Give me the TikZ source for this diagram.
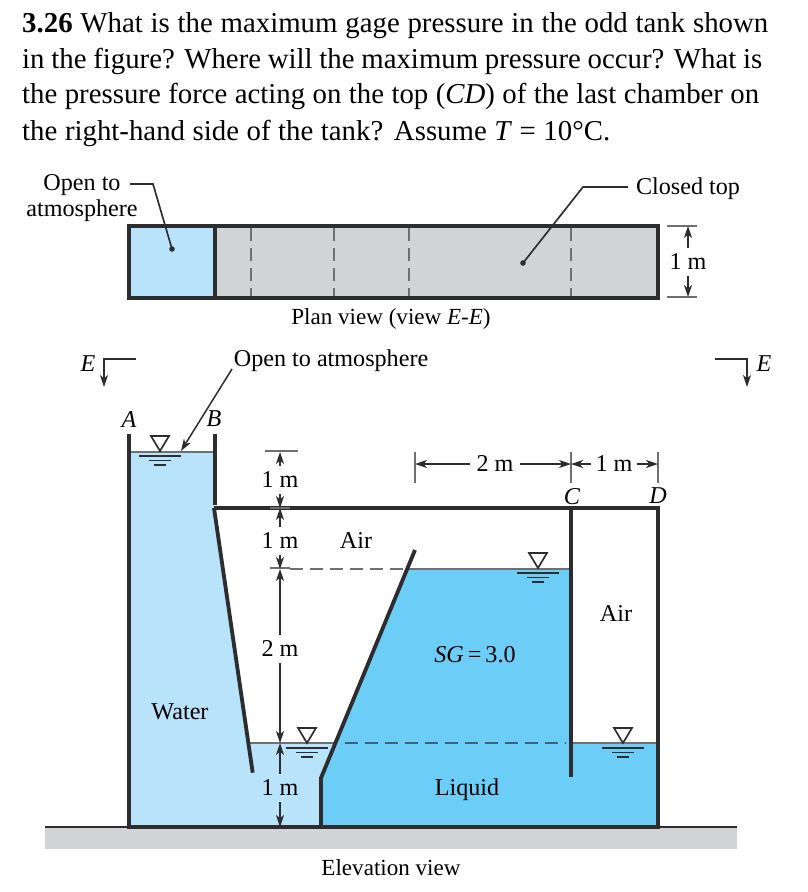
\documentclass[tikz,border=0pt]{standalone}
\usepackage{xcolor}
\usepackage{fontspec}
\setmainfont{Liberation Serif}
\usetikzlibrary{arrows.meta}
\definecolor{r185g227b250}{rgb}{0.725490,0.890196,0.980392}
\definecolor{r108g205b247}{rgb}{0.423529,0.803922,0.968627}
\definecolor{r209g211b212}{rgb}{0.819608,0.827451,0.831373}
\definecolor{r45g45b47}{rgb}{0.176471,0.176471,0.184314}
\definecolor{r110g112b115}{rgb}{0.431373,0.439216,0.450980}
\definecolor{r60g100b120}{rgb}{0.235294,0.392157,0.470588}
\tikzset{
  wall/.style={draw=r45g45b47, line width=0.115cm},
  surface/.style={draw=r110g112b115, line width=0.045cm},
  hidden/.style={draw=r110g112b115, line width=0.045cm, dash pattern=on 0.38cm off 0.22cm},
  leader/.style={draw=r45g45b47, line width=0.05cm},
  tick/.style={draw=r110g112b115, line width=0.045cm},
  dimline/.style={draw=r45g45b47, line width=0.035cm, -{Stealth[length=0.36cm,width=0.24cm,inset=0.1cm]}},
  headline/.style={anchor=base west, inner sep=0pt, text=black, font=\fontsize{24.6}{30}\selectfont},
  lab/.style={inner sep=0.05cm, text=black, font=\fontsize{20.6}{22}\selectfont},
  viewlab/.style={lab, font=\fontsize{19.7}{22}\selectfont},
  dimlab/.style={lab, inner xsep=0.18cm, inner ysep=0.17cm},
}
\begin{document}
\begin{tikzpicture}[x=0.03cm,y=-0.03cm]
  \useasboundingbox (0,0) rectangle (807,892);

  % Problem statement
  \node [headline] (lineone) at (22,32) {\makebox[22.38cm][s]{\textbf{3.26} What is the maximum gage pressure in the odd tank shown}};
  \node [headline] (linetwo) at (22,68) {\makebox[22.2cm][s]{in the figure? Where will the maximum pressure occur? What is}};
  \node [headline] (linethree) at (22,103) {\makebox[22.11cm][s]{the pressure force acting on the top (\textit{CD}) of the last chamber on}};
  \node [headline] (linefour) at (22,140) {\makebox[17.64cm][s]{the right-hand side of the tank? Assume \textit{T} = 10°C.}};

  % Plan view fills
  \fill [r185g227b250] (129,226) rectangle (215,298);
  \fill [r209g211b212] (215,226) rectangle (658,298);

  % Plan view hidden walls
  \draw [hidden] (251,228) -- (251,296);
  \draw [hidden] (334,228) -- (334,296);
  \draw [hidden] (409,228) -- (409,296);
  \draw [hidden] (571,228) -- (571,296);

  % Plan view outline
  \draw [wall] (129,226) rectangle (658,298);
  \draw [wall] (215,226) -- (215,298);

  % Plan view leaders
  \node [lab, align=center] (opentop) at (82,198) {Open to\\atmosphere};
  \node [lab, inner xsep=0.24cm] (closedtop) at (688,189) {Closed top};
  \coordinate (opendot) at (172,249);
  \coordinate (closeddot) at (523,263);
  \draw [leader] (130,184) -- (153,184) -- (opendot);
  \fill [r45g45b47] (opendot) circle (2.8);
  \draw [leader] (closedtop.west |- 0,187) -- (583,187) -- (closeddot);
  \fill [r45g45b47] (closeddot) circle (2.8);

  % Plan view width
  \node [dimlab] (planwidth) at (688,262) {1 m};
  \coordinate (planupper) at (688,226);
  \coordinate (planlower) at (688,297);
  \draw [tick] (667,226) -- (697,226);
  \draw [tick] (667,297) -- (697,297);
  \draw [dimline] (planwidth) -- (planupper);
  \draw [dimline] (planwidth) -- (planlower);
  \node [viewlab] (planview) at (391,319) {Plan view (view \textit{E-E})};

  % Section marks
  \node [lab] (markleft) at (88,364) {\textit{E}};
  \node [lab] (markright) at (764,364) {\textit{E}};
  \draw [leader, -{Stealth[length=0.36cm,width=0.24cm,inset=0.1cm]}] (136,359) -- (104,359) -- (104,387);
  \draw [leader, -{Stealth[length=0.36cm,width=0.24cm,inset=0.1cm]}] (715,359) -- (747,359) -- (747,387);

  % Ground
  \fill [r209g211b212] (45,827) rectangle (737,849);
  \draw [leader] (45,827) -- (737,827);

  % Water and liquid
  \fill [r185g227b250] (129,452) -- (215,452) -- (215,508) -- (248.3,743) -- (335.4,743) -- (321,778) -- (321,827) -- (129,827) -- cycle;
  \fill [r108g205b247] (407.2,569) -- (571,569) -- (571,743) -- (658,743) -- (658,827) -- (321,827) -- (321,778) -- cycle;

  % Free surfaces
  \draw [surface] (129,452) -- (215,452);
  \draw [surface] (248.3,743) -- (335.4,743);
  \draw [surface] (407.2,569) -- (571,569);
  \draw [surface] (571,743) -- (658,743);

  % Hidden levels
  \draw [hidden] (290,569) -- (404,569);
  \draw [hidden, draw=r60g100b120] (345,743) -- (566,743);

  % Tank walls
  \draw [wall] (129,434) -- (129,827) -- (658,827) -- (658,508) -- (214,508);
  \draw [wall] (215,434) -- (215,505);
  \draw [wall] (214,508) -- (252.7,772.7);
  \draw [wall] (415,550) -- (321,778) -- (321,827);
  \draw [wall] (571,508) -- (571,777);

  % Level marks
  \foreach \levelx/\levely in {160/451, 538/568, 307/743, 623/743} {
    \draw [line width=0.05cm, draw=r45g45b47, fill=white] (\levelx-9,\levely-15) -- (\levelx+9,\levely-15) -- (\levelx,\levely) -- cycle;
    \draw [line width=0.055cm, draw=r45g45b47] (\levelx-21,\levely+5) -- (\levelx+21,\levely+5);
    \draw [line width=0.055cm, draw=r45g45b47] (\levelx-11,\levely+9.5) -- (\levelx+11,\levely+9.5);
    \draw [line width=0.055cm, draw=r45g45b47] (\levelx-6,\levely+14) -- (\levelx+6,\levely+14);
  }

  % Open tank leader
  \node [lab, anchor=west] (openair) at (232,361) {Open to atmosphere};
  \coordinate (openarrow) at (181,451);
  \draw [dimline, line width=0.045cm] (232,369) -- (openarrow);

  % Corner letters
  \node [lab] (cornera) at (129,420) {\textit{A}};
  \node [lab] (cornerb) at (214,419) {\textit{B}};
  \node [lab] (cornerc) at (572,497) {\textit{C}};
  \node [lab] (cornerd) at (658,496) {\textit{D}};

  % Vertical dimensions
  \coordinate (levela) at (280,452);
  \coordinate (levelb) at (280,508);
  \coordinate (levelc) at (280,569);
  \coordinate (leveld) at (280,743);
  \coordinate (levele) at (280,827);
  \draw [tick] (265,451) -- (298,451);
  \draw [tick] (270,508) -- (290,508);
  \draw [tick] (270,568) -- (290,568);
  \node [dimlab] (heighta) at (280,480) {1 m};
  \node [dimlab] (heightb) at (280,541) {1 m};
  \node [dimlab] (heightc) at (280,649) {2 m};
  \node [dimlab] (heightd) at (280,788) {1 m};
  \draw [dimline] (heighta) -- (levela);
  \draw [dimline] (heighta) -- (levelb);
  \draw [dimline] (heightb) -- (levelb);
  \draw [dimline] (heightb) -- (levelc);
  \draw [dimline] (heightc) -- (levelc);
  \draw [dimline] (heightc) -- (leveld);
  \draw [dimline] (heightd) -- (leveld);
  \draw [dimline] (heightd) -- (levele);

  % Horizontal dimensions
  \coordinate (spana) at (415,464);
  \coordinate (spanb) at (571,464);
  \coordinate (spanc) at (658,464);
  \draw [tick] (415,452) -- (415,483);
  \draw [tick] (571,452) -- (571,483);
  \draw [tick] (658,452) -- (658,483);
  \node [dimlab] (lengtha) at (495,464) {2 m};
  \node [dimlab, inner xsep=0.12cm] (lengthb) at (614,464) {1 m};
  \draw [dimline] (lengtha) -- (spana);
  \draw [dimline] (lengtha) -- (spanb);
  \draw [dimline] (lengthb) -- (spanb);
  \draw [dimline] (lengthb) -- (spanc);

  % Region labels
  \node [lab] (airleft) at (356,541) {Air};
  \node [lab] (airright) at (616,614) {Air};
  \node [lab] (gravity) at (475,655) {\textit{SG}\,=\,3.0};
  \node [lab] (water) at (180,712) {Water};
  \node [lab] (liquid) at (467,790) {Liquid};
  \node [viewlab] (elevation) at (391,868) {Elevation view};
\end{tikzpicture}
\end{document}
